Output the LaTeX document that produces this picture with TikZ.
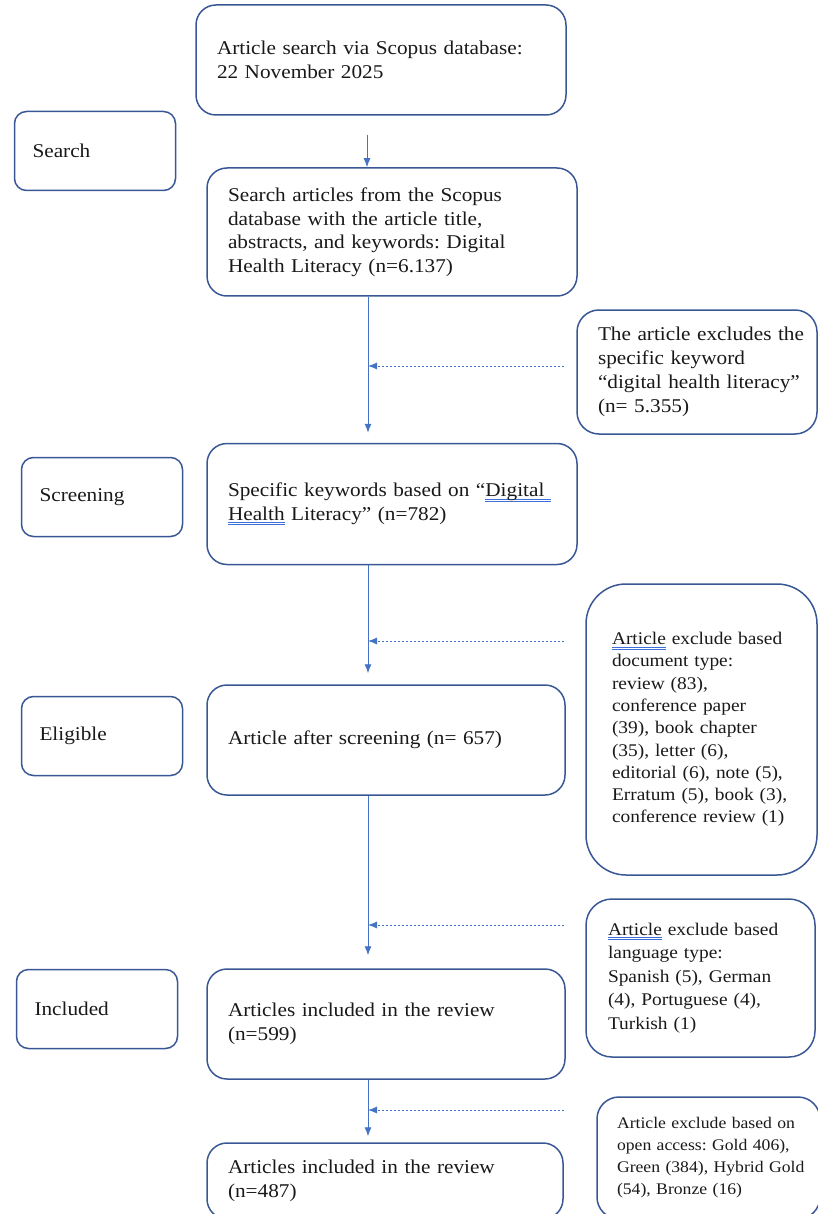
\documentclass[tikz,border=0pt]{standalone}
\usepackage{fontspec}
\setmainfont{Liberation Serif}[FakeStretch=1.09]
\usetikzlibrary{arrows.meta}
\definecolor{boxblue}{HTML}{3A5795}
\definecolor{lineblue}{HTML}{4472C4}
\definecolor{spellblue}{HTML}{3F6FD8}
\tikzset{>={Latex[length=9pt,width=7pt]}}
\tikzset{
  stage/.style = {draw=boxblue, line width=1.5pt, align=left, text=black!90},
  mainbox/.style = {stage, rounded corners=20pt, inner xsep=21pt,
    font=\fontsize{19.5}{23.5}\selectfont},
  phase/.style = {stage, rounded corners=12pt, inner xsep=18pt,
    minimum width=161pt, minimum height=79pt, text width=125pt,
    font=\fontsize{19.5}{23.5}\selectfont},
  exclbox/.style = {stage, rounded corners=22pt, inner xsep=6pt,
    execute at begin node={\leftskip=#1}},
  flow/.style = {draw=lineblue, line width=0.9pt, ->},
  skip/.style = {flow, dash pattern=on 2.5pt off 1.5pt}
}
\newsavebox\spellbox
\newcommand\spellchk[1]{\leavevmode\mbox{\sbox\spellbox{#1}%
  \rlap{\color{spellblue}\rule[-3pt]{\wd\spellbox}{0.8pt}}%
  \rlap{\color{spellblue}\rule[-4.8pt]{\wd\spellbox}{0.8pt}}%
  \usebox\spellbox}}
\frenchspacing

\begin{document}
\begin{tikzpicture}[x=1pt,y=-1pt]
  \useasboundingbox (0,0) rectangle (818,1214);
  \clip (0,0) rectangle (818,1214);

  \node[mainbox, minimum width=370pt, minimum height=110pt, text width=328pt]
    (srch) at (381,60) {Article search via Scopus database:\\ 22 November 2025};
  \node[mainbox, minimum width=370pt, minimum height=128pt, text width=328pt]
    (found) at (392,232) {Search articles from the Scopus\\ database with the article title,\\
    abstracts, and keywords: Digital\\ Health Literacy (n=6.137)};
  \node[mainbox, minimum width=370pt, minimum height=121pt, text width=328pt]
    (keyw) at (392,504) {Specific keywords based on ``\spellchk{Digital\ }\\
    \spellchk{Health} Literacy'' (n=782)};
  \node[mainbox, minimum width=358pt, minimum height=110pt, text width=316pt]
    (scrn) at (386,740) {Article after screening (n= 657)};
  \node[mainbox, minimum width=358pt, minimum height=110pt, text width=316pt]
    (incl) at (386,1024) {Articles included in the review\\ (n=599)};
  \node[mainbox, minimum width=356pt, minimum height=76pt, text width=314pt]
    (final) at (385,1181) {Articles included in the review\\ (n=487)};

  \node[phase] (lsearch) at (95,151) {Search};
  \node[phase] (lscreen) at (102,497) {Screening};
  \node[phase] (lelig) at (102,736) {Eligible};
  \node[phase] (lincl) at (97,1009) {Included};

  \node[exclbox=15pt, minimum height=124pt, text width=228pt,
    font=\fontsize{19.5}{24}\selectfont]
    (kwout) at (697,372) {The article excludes the\\ specific keyword\\
    ``digital health literacy''\\ (n= 5.355)};
  \node[exclbox=20pt, rounded corners=40pt, minimum height=291pt, text width=219pt,
    font=\fontsize{17.8}{22.3}\selectfont]
    (typeout) at (701.5,729.5) {\spellchk{Article}\ exclude based\\ document type:\\
    review (83),\\ conference paper\\ (39), book chapter\\ (35), letter (6),\\
    editorial (6), note (5),\\ Erratum (5), book (3),\\ conference review (1)};
  \node[exclbox=16pt, rounded corners=26pt, minimum height=158pt, text width=217pt,
    font=\fontsize{17.8}{23.5}\selectfont]
    (langout) at (700.5,978) {\spellchk{Article}\ exclude based\\ language type:\\
    Spanish (5), German\\ (4), Portuguese (4),\\ Turkish (1)};
  \node[exclbox=14pt, minimum height=122pt, text width=211pt,
    font=\fontsize{16.2}{22}\selectfont]
    (oaout) at (708.5,1158) {Article exclude based on\\ open access: Gold 406),\\
    Green (384), Hybrid Gold\\ (54), Bronze (16)};

  \coordinate (sp) at (368,0);
  \coordinate (go) at (367,135);
  \coordinate (d1) at (564,366);
  \coordinate (d2) at (564,641);
  \coordinate (d3) at (564,925);
  \coordinate (d4) at (564,1110);

  \draw[flow] (go) -- (found.north -| go);
  \draw[flow, shorten >=10pt] (found.south -| sp) -- (keyw.north -| sp);
  \draw[flow, shorten >=11pt] (keyw.south -| sp) -- (scrn.north -| sp);
  \draw[flow, shorten >=13pt] (scrn.south -| sp) -- (incl.north -| sp);
  \draw[flow, shorten >=6pt] (incl.south -| sp) -- (final.north -| sp);

  \draw[skip] (d1) -- (d1 -| sp);
  \draw[skip] (d2) -- (d2 -| sp);
  \draw[skip] (d3) -- (d3 -| sp);
  \draw[skip] (d4) -- (d4 -| sp);
\end{tikzpicture}
\end{document}
